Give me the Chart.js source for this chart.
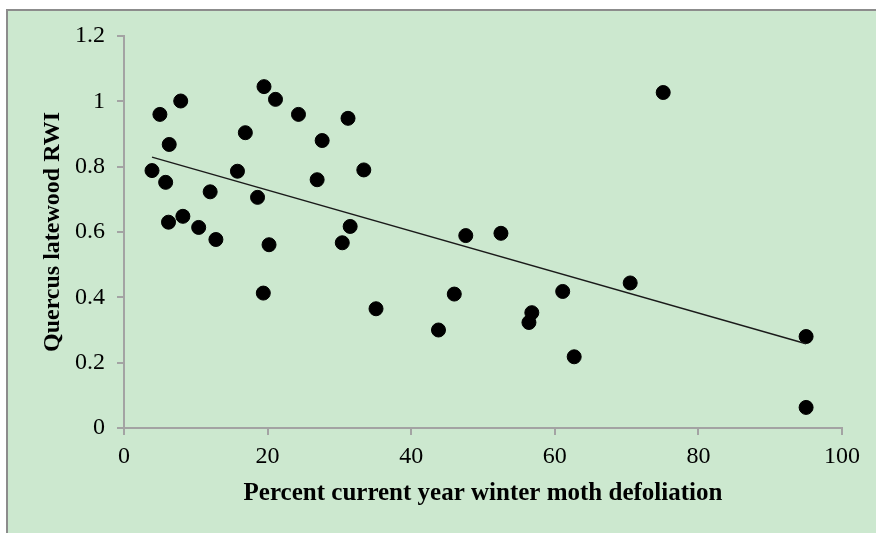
<!DOCTYPE html>
<html>
<head>
<meta charset="utf-8">
<script src="https://cdn.jsdelivr.net/npm/chart.js@4.4.0/dist/chart.umd.min.js"></script>
<style>
  html, body { margin: 0; padding: 0; background: #fff; }
  canvas { display: block; }
</style>
</head>
<body>
<canvas id="chart" width="876" height="533"></canvas>
<script>
// Defoliation (%) vs Quercus latewood RWI
const defoliation = [3.9, 5.0, 5.8, 6.3, 6.2, 7.9, 8.2, 10.4, 12.0, 12.8,
  15.8, 16.9, 18.6, 19.5, 21.1, 19.4, 20.2, 24.3, 26.9, 27.6,
  30.4, 31.2, 31.5, 33.4, 35.1, 43.8, 46.0, 47.6, 52.5, 56.4,
  56.8, 61.1, 62.7, 70.5, 75.1, 95.0, 95.0];
const rwi = [0.788, 0.960, 0.752, 0.868, 0.630, 1.001, 0.648, 0.614, 0.723, 0.577,
  0.786, 0.904, 0.706, 1.045, 1.006, 0.413, 0.561, 0.960, 0.760, 0.880,
  0.567, 0.948, 0.617, 0.790, 0.365, 0.300, 0.410, 0.589, 0.596, 0.323,
  0.353, 0.418, 0.218, 0.444, 1.027, 0.280, 0.063];

// linear trendline ends
const trendX = [3.9, 95.0];
const trendY = [0.829, 0.258];

const xTicks = [0, 20, 40, 60, 80, 100];
const yTicks = ['0', '0.2', '0.4', '0.6', '0.8', '1', '1.2'];

const AXIS_GRAY = '#a3a3a3';

// green panel with grey frame on top/left
const panelBg = {
  id: 'panelBg',
  beforeDraw(chart) {
    const ctx = chart.ctx;
    ctx.save();
    ctx.fillStyle = '#ffffff';
    ctx.fillRect(0, 0, chart.width, chart.height);
    ctx.fillStyle = '#cce8cf';
    ctx.fillRect(7, 10, chart.width - 7, chart.height - 10);
    ctx.strokeStyle = '#8c8c8c';
    ctx.lineWidth = 2;
    ctx.beginPath();
    ctx.moveTo(6, 10);
    ctx.lineTo(chart.width, 10);
    ctx.moveTo(7, 9);
    ctx.lineTo(7, chart.height);
    ctx.stroke();
    ctx.restore();
  }
};

const pts = defoliation.map((x, i) => ({ x: x, y: rwi[i] }));
const trend = trendX.map((x, i) => ({ x: x, y: trendY[i] }));

new Chart(document.getElementById('chart'), {
  type: 'scatter',
  data: {
    datasets: [
      {
        label: 'Trend',
        type: 'line',
        data: trend,
        borderColor: '#1a1a1a',
        borderWidth: 1.4,
        pointRadius: 0,
        fill: false
      },
      {
        label: 'RWI',
        data: pts,
        backgroundColor: '#000000',
        borderColor: '#000000',
        pointRadius: 7,
        pointHoverRadius: 7
      }
    ]
  },
  options: {
    responsive: false,
    animation: false,
    layout: { padding: { left: 0, right: 34, top: 36, bottom: 0 } },
    plugins: {
      legend: { display: false },
      tooltip: { enabled: false }
    },
    scales: {
      x: {
        type: 'linear',
        min: 0,
        max: 100,
        afterFit(scale) { scale.height = 105; },
        afterBuildTicks(scale) { scale.ticks = xTicks.map(v => ({ value: v })); },
        grid: { drawOnChartArea: false, drawTicks: true, tickLength: 7, color: AXIS_GRAY, lineWidth: 2 },
        border: { color: AXIS_GRAY, width: 2 },
        ticks: {
          padding: 7,
          color: '#000',
          font: { family: 'Liberation Serif', size: 24 }
        },
        title: {
          display: true,
          text: 'Percent current year winter moth defoliation',
          color: '#000',
          padding: { top: 0, bottom: 24 },
          font: { family: 'Liberation Serif', size: 25, weight: 'bold' }
        }
      },
      y: {
        type: 'linear',
        min: 0,
        max: 1.2,
        afterFit(scale) { scale.width = 124; },
        afterBuildTicks(scale) { scale.ticks = yTicks.map(t => ({ value: parseFloat(t) })); },
        grid: { drawOnChartArea: false, drawTicks: true, tickLength: 7, color: AXIS_GRAY, lineWidth: 2 },
        border: { color: AXIS_GRAY, width: 2 },
        ticks: {
          padding: 12,
          color: '#000',
          font: { family: 'Liberation Serif', size: 24 },
          callback: (v, i) => yTicks[i]
        },
        title: {
          display: true,
          text: 'Quercus latewood RWI',
          color: '#000',
          padding: { top: 38, bottom: 0 },
          font: { family: 'Liberation Serif', size: 24, weight: 'bold' }
        }
      }
    }
  },
  plugins: [panelBg]
});
</script>
</body>
</html>
